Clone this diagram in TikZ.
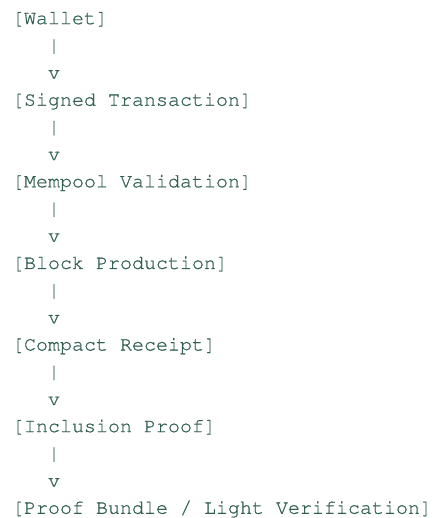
\documentclass[tikz,border=0pt]{standalone}
\usepackage[T1]{fontenc}
\usepackage{courier}
\definecolor{codegreen}{RGB}{50,96,80}
% slightly heavier strokes for the typewriter glyphs (fill + thin outline)
\newcommand{\heavytext}{\special{pdf:literal direct 2 Tr 0.15 w}}
\begin{document}
\begin{tikzpicture}[x=1pt,y=1pt,
  line/.style={anchor=mid west,inner sep=0pt,outer sep=0pt,text=codegreen,
    font=\ttfamily\fontsize{20}{24}\selectfont\heavytext}]
\useasboundingbox (0,0) rectangle (445,518);
% row i sits at 496-27.2 i; boxes start at column 0, arrows at column 3
\node[line] (s1) at (12,{496-27.2*0}) {[Wallet]};
\node[line] (b1) at (48,{496-27.2*1}) {|};
\node[line] (v1) at (48,{496-27.2*2}) {v};
\node[line] (s2) at (12,{496-27.2*3}) {[Signed Transaction]};
\node[line] (b2) at (48,{496-27.2*4}) {|};
\node[line] (v2) at (48,{496-27.2*5}) {v};
\node[line] (s3) at (12,{496-27.2*6}) {[Mempool Validation]};
\node[line] (b3) at (48,{496-27.2*7}) {|};
\node[line] (v3) at (48,{496-27.2*8}) {v};
\node[line] (s4) at (12,{496-27.2*9}) {[Block Production]};
\node[line] (b4) at (48,{496-27.2*10}) {|};
\node[line] (v4) at (48,{496-27.2*11}) {v};
\node[line] (s5) at (12,{496-27.2*12}) {[Compact Receipt]};
\node[line] (b5) at (48,{496-27.2*13}) {|};
\node[line] (v5) at (48,{496-27.2*14}) {v};
\node[line] (s6) at (12,{496-27.2*15}) {[Inclusion Proof]};
\node[line] (b6) at (48,{496-27.2*16}) {|};
\node[line] (v6) at (48,{496-27.2*17}) {v};
\node[line] (s7) at (12,{496-27.2*18}) {[Proof Bundle / Light Verification]};
\end{tikzpicture}
\end{document}
